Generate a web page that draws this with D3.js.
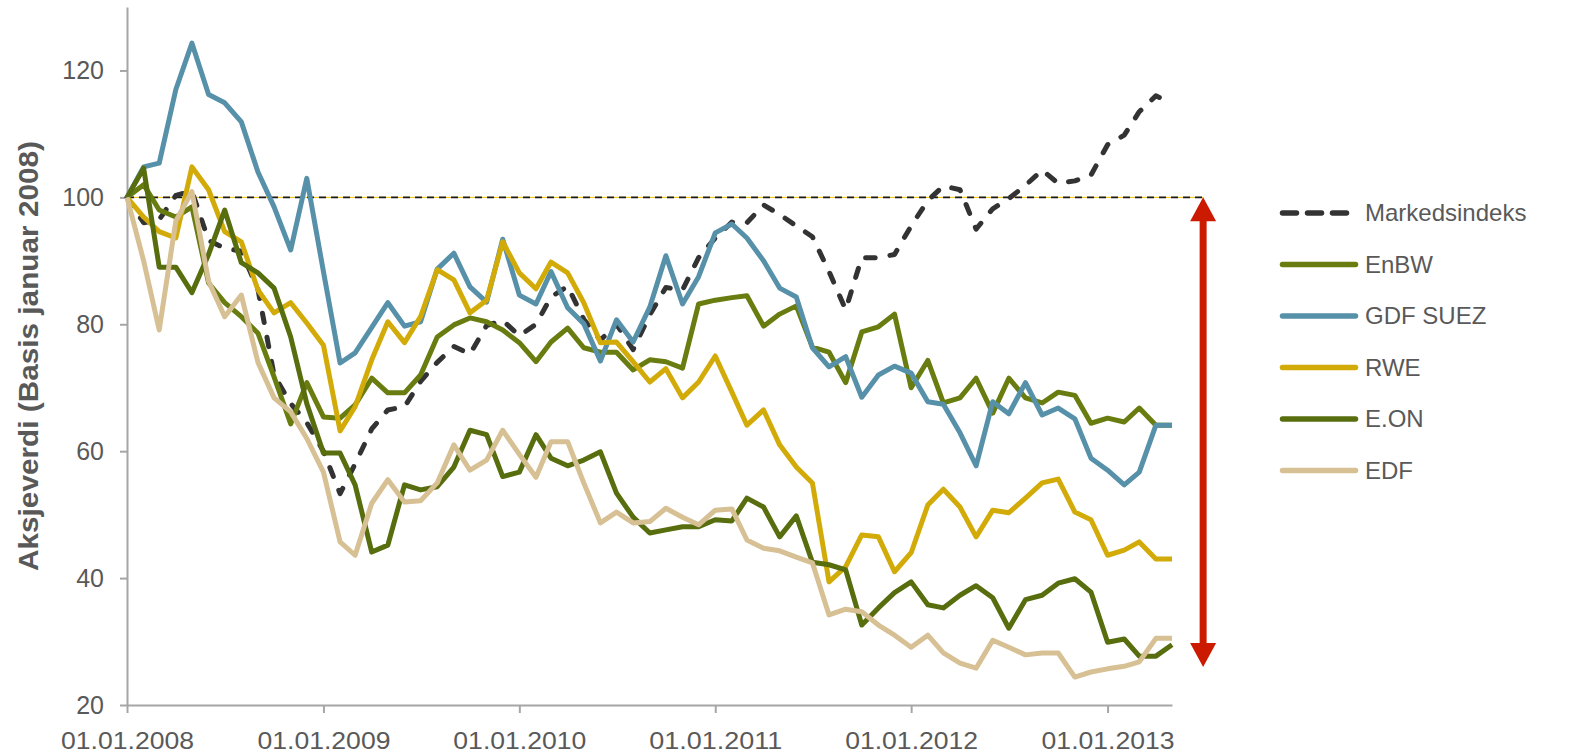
<!DOCTYPE html>
<html>
<head>
<meta charset="utf-8">
<script src="https://cdnjs.cloudflare.com/ajax/libs/d3/7.8.5/d3.min.js"></script>
<style>
  body { margin: 0; background: #fff; }
  svg text { font-family: "Liberation Sans", Arial, sans-serif; }
</style>
</head>
<body>
<div id="wrapper"></div>
<script>
// monthly points, Jan 2008 .. May 2013
const months = d3.timeMonth.range(new Date(2008, 0, 1), new Date(2013, 5, 1))

const seriesNames = ["Markedsindeks", "EnBW", "GDF SUEZ", "RWE", "E.ON", "EDF"]
const seriesColors = ["#333333", "#687c10", "#5790a9", "#d2ab08", "#576d0e", "#d6c094"]

const markedsindeks = [100, 96, 96.5, 100.3, 101, 93.2, 92, 91.5, 85.5, 72, 67.5, 64.5, 60, 53.3, 58, 63.5,
  66.5, 67, 71, 74, 76.5, 75.3, 79.8, 80.6, 78.2, 80, 84.3, 86, 80.8, 77.5, 80, 76, 81.5, 85.8, 85.4, 90.5,
  93.6, 96.1, 96, 98.8, 97.3, 95.5, 93.8, 88.3, 82.3, 90.5, 90.5, 91, 95.5, 99.5, 101.8, 101.2, 95, 98.2,
  99.8, 101.9, 104.3, 102.2, 102.6, 103.5, 108.3, 109.8, 113.5, 116, 114.8]
const enbw = [100, 102, 98, 96.9, 98.5, 86.5, 83.4, 81.2, 78.6, 71.7, 64.3, 70.8, 65.4, 65.2, 67.3, 71.5,
  69.2, 69.2, 72, 78, 79.9, 81, 80.4, 79.1, 77.1, 74.1, 77.2, 79.4, 76.3, 75.6, 75.6, 72.8, 74.4, 74.1, 73.1,
  83.2, 83.8, 84.2, 84.5, 79.7, 81.6, 82.9, 76.4, 75.6, 70.8, 78.8, 79.6, 81.6, 70, 74.3, 67.6, 68.4, 71.5,
  66, 71.5, 68.4, 67.6, 69.3, 68.8, 64.4, 65.2, 64.6, 66.8, 64.1, 64.1]
const gdfSuez = [100, 104.8, 105.4, 117, 124.3, 116.2, 114.9, 111.9, 104, 98.5, 91.7, 103, 88.3, 73.9, 75.5,
  79.5, 83.4, 79.7, 80.4, 88.7, 91.2, 85.9, 83.5, 93.4, 84.6, 83.2, 88.3, 82.6, 80.1, 74.2, 80.7, 77.2, 82.7,
  90.8, 83.2, 87.5, 94.4, 95.8, 93.6, 90, 85.7, 84.3, 76.3, 73.3, 74.9, 68.5, 72, 73.4, 72.3, 67.8, 67.4,
  62.9, 57.7, 67.8, 65.9, 70.8, 65.7, 66.8, 65.1, 58.9, 57, 54.7, 56.7, 64.1, 64.1]
const rwe = [100, 96.9, 94.6, 93.6, 104.8, 101.2, 94.6, 93, 85.4, 81.8, 83.4, 80.2, 76.7, 63.2, 67, 74.4,
  80.4, 77.1, 81.2, 88.6, 87, 81.8, 83.8, 93, 88.1, 85.6, 89.8, 88.1, 83.4, 77.1, 77.2, 74.1, 70.9, 73, 68.4,
  70.9, 75, 69.3, 64.1, 66.5, 61, 57.5, 55, 39.4, 41.8, 46.8, 46.5, 41, 44, 51.5, 54, 51.2, 46.5, 50.7, 50.3,
  52.6, 55, 55.6, 50.4, 49.2, 43.6, 44.4, 45.7, 43, 43]
const eon = [100, 104.6, 89, 89, 85, 91, 98, 89.7, 88.1, 85.7, 78, 67.5, 59.7, 59.7, 54.7, 44.1, 45.2, 54.7,
  53.9, 54.4, 57.5, 63.3, 62.6, 56, 56.7, 62.6, 58.9, 57.7, 58.6, 59.9, 53.4, 49.6, 47.1, 47.6, 48.1, 48.1,
  49.2, 49, 52.6, 51.2, 46.5, 49.8, 42.5, 42.1, 41.3, 32.6, 35.3, 37.7, 39.4, 35.8, 35.3, 37.3, 38.8, 36.9,
  32.1, 36.6, 37.3, 39.2, 39.9, 37.8, 29.9, 30.4, 27.7, 27.7, 29.5]
const edf = [100, 90, 79.1, 96.3, 100.9, 86.8, 81.2, 84.6, 74, 68.4, 66.2, 62, 56.7, 45.7, 43.6, 51.8, 55.5,
  52, 52.2, 55, 61, 57, 58.6, 63.3, 59.5, 55.9, 61.5, 61.5, 55, 48.7, 50.4, 48.7, 48.9, 51, 49.6, 48.4, 50.7,
  50.9, 46, 44.7, 44.3, 43.3, 42.4, 34.2, 35.1, 34.7, 32.6, 31, 29.1, 31, 28.2, 26.6, 25.8, 30.2, 29.1, 27.9,
  28.2, 28.2, 24.4, 25.2, 25.7, 26.1, 26.8, 30.5, 30.5]

const yTicks = [20, 40, 60, 80, 100, 120]
const xTickDates = [2008, 2009, 2010, 2011, 2012, 2013].map(y => new Date(y, 0, 1))
const baseValue = 100
// red arrow: from the base level down to where the lowest series ends up
const arrowRange = [100, 26]
const arrowDate = new Date(2013, 5, 28)

const allSeries = [markedsindeks, enbw, gdfSuez, rwe, eon, edf]

function drawChart() {
  let dimensions = {
    width: 1571,
    height: 755,
    margin: { top: 7, right: 399, bottom: 50, left: 127 },
  }
  dimensions.boundedWidth = dimensions.width - dimensions.margin.left - dimensions.margin.right
  dimensions.boundedHeight = dimensions.height - dimensions.margin.top - dimensions.margin.bottom

  const wrapper = d3.select("#wrapper")
    .append("svg")
      .attr("width", dimensions.width)
      .attr("height", dimensions.height)

  const bounds = wrapper.append("g")
      .attr("transform", `translate(${dimensions.margin.left},${dimensions.margin.top})`)

  const xScale = d3.scaleTime()
      .domain([months[0], months[months.length - 1]])
      .range([0, dimensions.boundedWidth])
  const yScale = d3.scaleLinear()
      .domain([20, 130])
      .range([dimensions.boundedHeight, 0])

  // axes
  const axisGrey = "#a6a6a6"
  const textGrey = "#595959"

  const yAxis = bounds.append("g")
      .call(d3.axisLeft(yScale)
        .tickValues(yTicks)
        .tickSize(7)
        .tickSizeOuter(0)
        .tickPadding(16))
  const xAxis = bounds.append("g")
      .attr("transform", `translate(0,${dimensions.boundedHeight})`)
      .call(d3.axisBottom(xScale)
        .tickValues(xTickDates)
        .tickSize(8)
        .tickSizeOuter(0)
        .tickPadding(19)
        .tickFormat(d3.timeFormat("%d.%m.%Y")))

  ;[xAxis, yAxis].forEach(ax => {
    ax.selectAll("path, line").attr("stroke", axisGrey).attr("stroke-width", 2)
    ax.selectAll("text")
      .attr("fill", textGrey)
      .style("font-size", "24px")
      .style("font-family", '"Liberation Sans", Arial, sans-serif')
  })
  yAxis.selectAll("text").style("font-size", "25px")
  // the date labels are drawn a little wider in the original
  xAxis.selectAll("text")
      .attr("textLength", 133)
      .attr("lengthAdjust", "spacingAndGlyphs")

  wrapper.append("text")
      .attr("transform", `translate(38,${dimensions.margin.top + yScale(75)}) rotate(-90)`)
      .attr("text-anchor", "middle")
      .attr("fill", textGrey)
      .attr("font-weight", "bold")
      .attr("font-size", 27)
      .attr("textLength", 430)
      .attr("lengthAdjust", "spacingAndGlyphs")
      .text("Aksjeverdi (Basis januar 2008)")

  // base level line (thin yellow under small black dashes)
  const baseY = yScale(baseValue)
  const arrowX = xScale(arrowDate)
  bounds.append("line")
      .attr("x1", 0).attr("x2", arrowX)
      .attr("y1", baseY).attr("y2", baseY)
      .attr("stroke", "#f2c200")
      .attr("stroke-width", 1)
  bounds.append("line")
      .attr("x1", 0).attr("x2", arrowX)
      .attr("y1", baseY).attr("y2", baseY)
      .attr("stroke", "#1a1a1a")
      .attr("stroke-width", 1.8)
      .attr("stroke-dasharray", "7,5")

  // series lines
  const lineGenerator = d3.line()
      .x((d, i) => xScale(months[i]))
      .y(d => yScale(d))

  allSeries.forEach((values, s) => {
    const path = bounds.append("path")
        .attr("d", lineGenerator(values))
        .attr("fill", "none")
        .attr("stroke", seriesColors[s])
        .attr("stroke-width", 5)
        .attr("stroke-linejoin", "round")
    if (s === 0) {
      path.attr("stroke-dasharray", "9.5,15")
          .attr("stroke-linecap", "round")
    }
  })

  // red double arrow
  const arrowTop = yScale(arrowRange[0])
  const arrowBottom = yScale(arrowRange[1])
  const headW = 13
  const headH = 24
  const arrowRed = "#cc1a00"
  bounds.append("line")
      .attr("x1", arrowX).attr("x2", arrowX)
      .attr("y1", arrowTop + headH - 2).attr("y2", arrowBottom - headH + 2)
      .attr("stroke", arrowRed)
      .attr("stroke-width", 7)
  bounds.append("path")
      .attr("d", `M${arrowX},${arrowTop} L${arrowX + headW},${arrowTop + headH} L${arrowX - headW},${arrowTop + headH} Z`)
      .attr("fill", arrowRed)
  bounds.append("path")
      .attr("d", `M${arrowX},${arrowBottom} L${arrowX + headW},${arrowBottom - headH} L${arrowX - headW},${arrowBottom - headH} Z`)
      .attr("fill", arrowRed)

  // legend
  const legend = wrapper.append("g")
      .attr("transform", "translate(1280,213)")
  seriesNames.forEach((name, s) => {
    const row = legend.append("g")
        .attr("transform", `translate(0,${s * 51.5})`)
    const sample = row.append("line")
        .attr("stroke", seriesColors[s])
        .attr("stroke-width", 5.5)
        .attr("stroke-linecap", "round")
    if (s === 0) {
      sample.attr("x1", 2.5).attr("x2", 68).attr("stroke-dasharray", "14,11")
    } else {
      sample.attr("x1", 2.5).attr("x2", 75.5)
    }
    row.append("text")
        .attr("x", 85)
        .attr("dy", "0.35em")
        .attr("fill", textGrey)
        .attr("font-size", 24)
        .text(name)
  })
}
drawChart()
</script>
</body>
</html>
